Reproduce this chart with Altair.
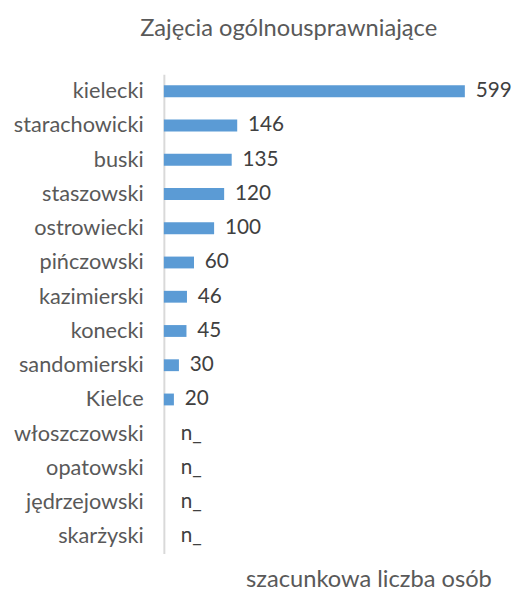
import altair as alt
import pandas as pd

categories = ["kielecki", "starachowicki", "buski", "staszowski", "ostrowiecki",
              "pińczowski", "kazimierski", "konecki", "sandomierski", "Kielce",
              "włoszczowski", "opatowski", "jędrzejowski", "skarżyski"]
values = [599, 146, 135, 120, 100, 60, 46, 45, 30, 20, None, None, None, None]
labels = ["599", "146", "135", "120", "100", "60", "46", "45", "30", "20",
          "n_", "n_", "n_", "n_"]

df = pd.DataFrame({
    "powiat": categories,
    "value": values,
    "label": labels,
    "pos": [v if v is not None else 0 for v in values],
})

FONT = "Lato"

y = alt.Y("powiat:N", sort=categories, title=None,
          scale=alt.Scale(paddingInner=0.65, paddingOuter=0.325),
          axis=alt.Axis(labelFontSize=22, labelColor="#595959", labelFont=FONT,
                        ticks=False, labelPadding=21, domainColor="#D9D9D9",
                        domainWidth=2, grid=False))
x = alt.X("pos:Q", title="szacunkowa liczba osób",
          scale=alt.Scale(domain=[0, 638], nice=False),
          axis=alt.Axis(labels=False, ticks=False, domain=False, grid=False,
                        titleFontSize=24, titleColor="#595959", titleFont=FONT,
                        titleFontWeight="normal", titleX=332, titleAlign="right",
                        titlePadding=14))

bars = alt.Chart(df).transform_filter("datum.value != null").mark_bar(
    color="#5B9BD5", size=12).encode(x=x, y=y)

text = alt.Chart(df).transform_filter("datum.value != null").mark_text(
    align="left", baseline="middle", dx=11,
    fontSize=21, font=FONT, color="#404040").encode(x=x, y=y, text="label:N")

text_na = alt.Chart(df).transform_filter("datum.value == null").mark_text(
    align="left", baseline="middle", dx=17,
    fontSize=21, font=FONT, color="#404040").encode(x=x, y=y, text="label:N")

chart = (bars + text + text_na).properties(
    width=325, height=486,
    title=alt.TitleParams("Zajęcia ogólnousprawniające", fontSize=24,
                          font=FONT, color="#595959", fontWeight="normal",
                          anchor="start", frame="group", dx=-24, offset=34),
).configure_view(stroke=None)

chart.save("out.html", embed_options={"renderer": "svg", "actions": False})
